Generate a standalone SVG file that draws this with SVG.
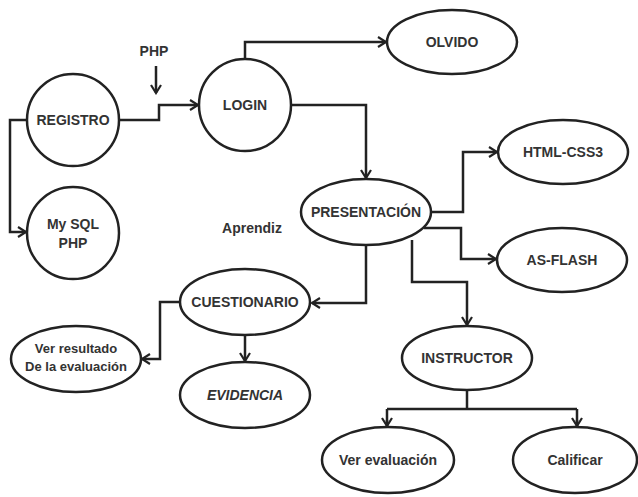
<svg xmlns="http://www.w3.org/2000/svg" width="638" height="497" viewBox="0 0 638 497">
<defs>
<style>
.n{fill:#fff;stroke:#222;stroke-width:2.5}
.t{font-family:"Liberation Sans",Arial,sans-serif;font-weight:bold;font-size:14px;fill:#333;text-anchor:middle}
.s{font-size:13px}
.i{font-style:italic}
.c{fill:none;stroke:#222;stroke-width:2.5}
</style>
<marker id="a" markerWidth="12" markerHeight="12" refX="10" refY="6" orient="auto" markerUnits="userSpaceOnUse">
<path d="M2,1 L10,6 L2,11" fill="none" stroke="#222" stroke-width="2.2"/>
</marker>
</defs>
<rect width="638" height="497" fill="#fff"/>
<g id="connectors">
<path class="c" d="M119,120 H159 V105 H198" marker-end="url(#a)"/>
<path class="c" d="M156,66 V93" marker-end="url(#a)"/>
<path class="c" d="M27,120 H10 V232 H26" marker-end="url(#a)"/>
<path class="c" d="M245,59 V42 H386" marker-end="url(#a)"/>
<path class="c" d="M291,105 H366 V178" marker-end="url(#a)"/>
<path class="c" d="M431,212 H463 V152 H497" marker-end="url(#a)"/>
<path class="c" d="M424,228 H461 V259 H496" marker-end="url(#a)"/>
<path class="c" d="M412,240 V282 H467 V325" marker-end="url(#a)"/>
<path class="c" d="M366,245 V303 H312" marker-end="url(#a)"/>
<path class="c" d="M180,302 H160 V359 H142" marker-end="url(#a)"/>
<path class="c" d="M245,335 V361" marker-end="url(#a)"/>
<path class="c" d="M467,390 V409 M387,409 H577 M387,409 V426 M577,409 V426"/>
<path class="c" d="M387,420 V426" marker-end="url(#a)"/>
<path class="c" d="M577,420 V426" marker-end="url(#a)"/>
</g>
<text class="t" x="154" y="56">PHP</text>
<text class="t" x="252" y="233">Aprendiz</text>
<g id="registro"><circle class="n" cx="73" cy="120" r="46"/><text class="t" x="73" y="125">REGISTRO</text></g>
<g id="login"><circle class="n" cx="245" cy="105" r="46"/><text class="t" x="245" y="110">LOGIN</text></g>
<g id="mysql"><circle class="n" cx="73" cy="233" r="46"/><text class="t" x="73" y="229">My SQL</text><text class="t" x="73" y="248">PHP</text></g>
<g id="olvido"><ellipse class="n" cx="452" cy="42" rx="65" ry="32"/><text class="t" x="452" y="47">OLVIDO</text></g>
<g id="htmlcss"><ellipse class="n" cx="563" cy="152" rx="65" ry="32"/><text class="t" x="563" y="157">HTML-CSS3</text></g>
<g id="presentacion"><ellipse class="n" cx="366" cy="212" rx="65" ry="33"/><text class="t" x="366" y="217">PRESENTACIÓN</text></g>
<g id="asflash"><ellipse class="n" cx="562" cy="260" rx="65" ry="32"/><text class="t" x="562" y="265">AS-FLASH</text></g>
<g id="cuestionario"><ellipse class="n" cx="245" cy="302" rx="65" ry="33"/><text class="t" x="245" y="307">CUESTIONARIO</text></g>
<g id="verresultado"><ellipse class="n" cx="76" cy="359" rx="65" ry="33"/><text class="t s" x="76" y="353">Ver resultado</text><text class="t s" x="76" y="371">De la evaluación</text></g>
<g id="evidencia"><ellipse class="n" cx="245" cy="395" rx="65" ry="33"/><text class="t i" x="245" y="400">EVIDENCIA</text></g>
<g id="instructor"><ellipse class="n" cx="467" cy="358" rx="65" ry="32"/><text class="t" x="467" y="363">INSTRUCTOR</text></g>
<g id="verevaluacion"><ellipse class="n" cx="388" cy="460" rx="66" ry="33"/><text class="t" x="388" y="465">Ver evaluación</text></g>
<g id="calificar"><ellipse class="n" cx="575" cy="460" rx="62" ry="33"/><text class="t" x="575" y="465">Calificar</text></g>
</svg>
